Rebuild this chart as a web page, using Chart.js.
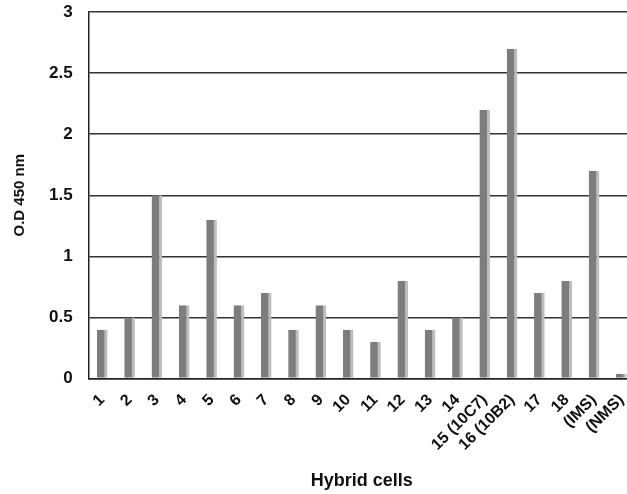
<!DOCTYPE html>
<html>
<head>
<meta charset="utf-8">
<script src="https://cdn.jsdelivr.net/npm/chart.js@4"></script>
<style>
  html, body { margin: 0; padding: 0; background: #fff; overflow: hidden; }
  #wrap { width: 636px; height: 494px; position: relative; }
</style>
</head>
<body>
<div id="wrap"><canvas id="chart"></canvas></div>
<script>
const cells = ["1", "2", "3", "4", "5", "6", "7", "8", "9", "10", "11", "12", "13", "14",
  "15 (10C7)", "16 (10B2)", "17", "18", "(IMS)", "(NMS)"];
const odValues = [0.4, 0.5, 1.5, 0.6, 1.3, 0.6, 0.7, 0.4, 0.6, 0.4, 0.3, 0.8, 0.4, 0.5,
  2.2, 2.7, 0.7, 0.8, 1.7, 0.04];
const yTicks = [0, 0.5, 1, 1.5, 2, 2.5, 3];

const font = "'Liberation Sans', Arial, sans-serif";

new Chart(document.getElementById("chart"), {
  type: "bar",
  data: {
    labels: cells,
    datasets: [{
      data: odValues,
      backgroundColor: "#7d7d7d",
      borderColor: "#bdbdbd",
      borderWidth: { left: 0, top: 0, bottom: 0, right: 3 },
      borderSkipped: false,
      barPercentage: 0.78,
      categoryPercentage: 0.5
    }]
  },
  options: {
    responsive: true,
    maintainAspectRatio: false,
    animation: false,
    layout: { padding: { top: 0, right: 1, left: 11, bottom: 2 } },
    plugins: { legend: { display: false }, tooltip: { enabled: false } },
    scales: {
      x: {
        grid: { display: false, drawTicks: false },
        border: { color: "#222", width: 1.5 },
        ticks: {
          color: "#111",
          font: { family: font, size: 16, weight: "bold" },
          maxRotation: 45, minRotation: 45,
          autoSkip: false,
          padding: 12
        },
        title: {
          display: true,
          text: "Hybrid cells",
          color: "#111",
          font: { family: font, size: 18, weight: "bold" },
          padding: { top: 4, bottom: 0 }
        },
        afterFit: axis => { axis.paddingLeft = 0; axis.paddingRight = 0; }
      },
      y: {
        min: 0, max: 3,
        afterBuildTicks: axis => { axis.ticks = yTicks.map(v => ({ value: v })); },
        grid: { color: "#333", lineWidth: 1.5, drawTicks: false },
        border: { color: "#222", width: 1.5 },
        ticks: {
          color: "#111",
          font: { family: font, size: 17, weight: "bold" },
          padding: 16,
          callback: v => String(v)
        },
        title: {
          display: true,
          text: "O.D 450 nm",
          color: "#111",
          font: { family: font, size: 15, weight: "bold" },
          padding: { top: 0, bottom: 4 }
        },
        afterFit: axis => { axis.paddingTop = 12; axis.paddingBottom = 0; }
      }
    }
  }
});
</script>
</body>
</html>
